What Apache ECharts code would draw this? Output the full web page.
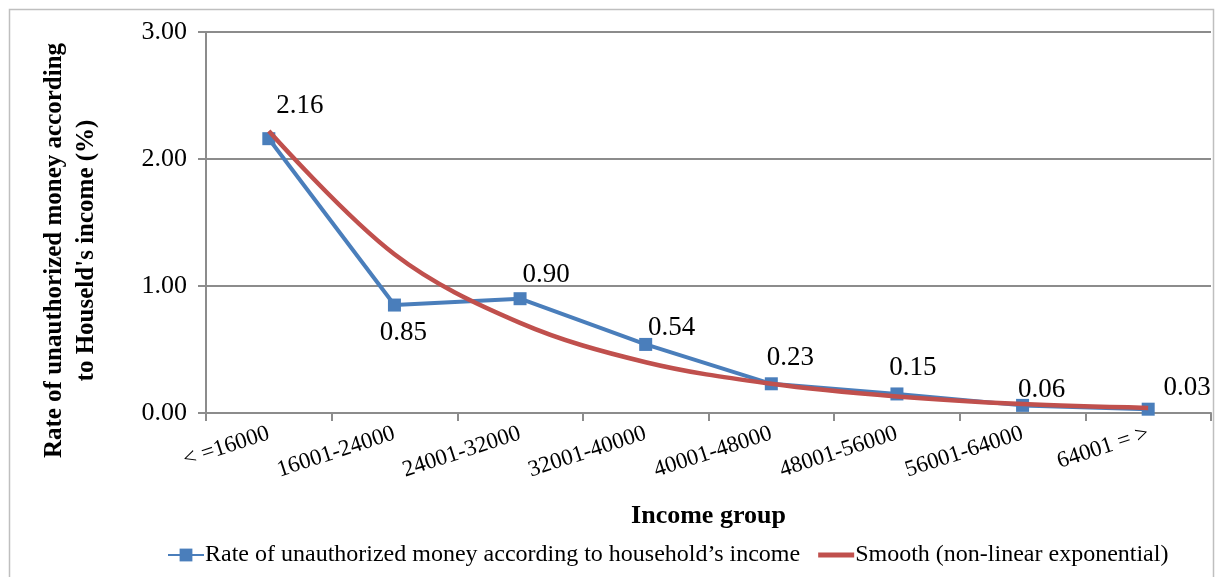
<!DOCTYPE html>
<html>
<head>
<meta charset="utf-8">
<title>Unauthorized money by income group</title>
<script src="https://cdn.jsdelivr.net/npm/echarts@6/dist/echarts.min.js"></script>
<style>
  html, body { margin: 0; padding: 0; background: #ffffff; }
  #chart { width: 1219px; height: 577px; }
</style>
</head>
<body>
<div id="chart"></div>
<script>
// Income groups along the category axis
const incomeGroups = ['< =16000', '16001-24000', '24001-32000', '32001-40000',
  '40001-48000', '48001-56000', '56001-64000', '64001 = >'];

// Observed rate (%) per income group
const observedRate = [2.16, 0.85, 0.90, 0.54, 0.23, 0.15, 0.06, 0.03];

// Fitted exponential trend, value per income group
const trendRate = [2.22, 1.25, 0.71, 0.40, 0.23, 0.13, 0.07, 0.04];

// Y axis ticks
const yTicks = [0, 1, 2, 3];

const seriesNames = ['Rate of unauthorized money according to household\u2019s income',
  'Smooth (non-linear exponential)'];

// Where each value label sits relative to its marker (centre offset, px)
const labelOffsets = [[31, -33], [9, 28], [26, -24], [26, -17], [19, -26], [16, -26], [19, -15], [39, -21]];

const FONT = '"Liberation Serif", "Times New Roman", serif';
const BLUE = '#4a7ebb';
const RED = '#c0504d';
const AXIS_GRAY = '#8c8c8c';

const chart = echarts.init(document.getElementById('chart'), null, { renderer: 'canvas' });

chart.setOption({
  backgroundColor: '#ffffff',
  animation: false,
  textStyle: { fontFamily: FONT, color: '#000' },
  graphic: [{
    type: 'rect',
    shape: { x: 9.5, y: 9.5, width: 1204, height: 570 },
    style: { fill: 'none', stroke: '#bfbfbf', lineWidth: 1.5 },
    silent: true
  }],
  grid: { left: 206, right: 8, top: 32, bottom: 164, containLabel: false, outerBoundsMode: 'none' },
  legend: {
    left: 162,
    top: 538,
    itemGap: 18,
    itemWidth: 36,
    itemHeight: 16,
    textStyle: { fontFamily: FONT, fontSize: 24, color: '#000', padding: [0, 0, 0, -4] },
    data: [
      { name: seriesNames[0] },
      { name: seriesNames[1], icon: 'path://M0,0 L42,0 L42,6 L0,6 Z' }
    ]
  },
  xAxis: {
    type: 'category',
    data: incomeGroups,
    boundaryGap: true,
    name: 'Income group',
    nameLocation: 'middle',
    nameGap: 90,
    nameTextStyle: { fontFamily: FONT, fontSize: 26, fontWeight: 'bold', color: '#000' },
    axisLine: { lineStyle: { color: AXIS_GRAY, width: 2 } },
    axisTick: { show: true, alignWithLabel: false, length: 8, lineStyle: { color: AXIS_GRAY, width: 2 } },
    axisLabel: { rotate: 18, fontFamily: FONT, fontSize: 23, color: '#000', margin: 20, interval: 0 },
    splitLine: { show: false }
  },
  yAxis: {
    type: 'value',
    min: yTicks[0],
    max: yTicks[yTicks.length - 1],
    interval: 1,
    name: 'Rate of unauthorized money according\nto Houseld\'s income (%)',
    nameLocation: 'middle',
    nameGap: 103,
    nameTextStyle: { fontFamily: FONT, fontSize: 25, fontWeight: 'bold', color: '#000',
      lineHeight: 32, padding: [0, 56, 0, 0] },
    axisLine: { show: true, lineStyle: { color: AXIS_GRAY, width: 2 } },
    axisTick: { show: true, length: 8, lineStyle: { color: AXIS_GRAY, width: 2 } },
    axisLabel: { fontFamily: FONT, fontSize: 26, color: '#000', margin: 19,
      formatter: v => v.toFixed(2) },
    splitLine: { show: true, lineStyle: { color: AXIS_GRAY, width: 2 } }
  },
  series: [
    {
      name: seriesNames[0],
      type: 'line',
      z: 2,
      data: observedRate.map((v, i) => ({
        value: v,
        label: { offset: labelOffsets[i] }
      })),
      symbol: 'rect',
      symbolSize: 13,
      lineStyle: { color: BLUE, width: 4 },
      itemStyle: { color: BLUE },
      label: {
        show: true,
        position: 'inside',
        fontFamily: FONT,
        fontSize: 27,
        color: '#000',
        formatter: p => p.value.toFixed(2)
      }
    },
    {
      name: seriesNames[1],
      type: 'line',
      z: 3,
      data: trendRate,
      smooth: 0.35,
      symbol: 'none',
      lineStyle: { color: RED, width: 4.5 },
      itemStyle: { color: RED }
    }
  ]
});
</script>
</body>
</html>
